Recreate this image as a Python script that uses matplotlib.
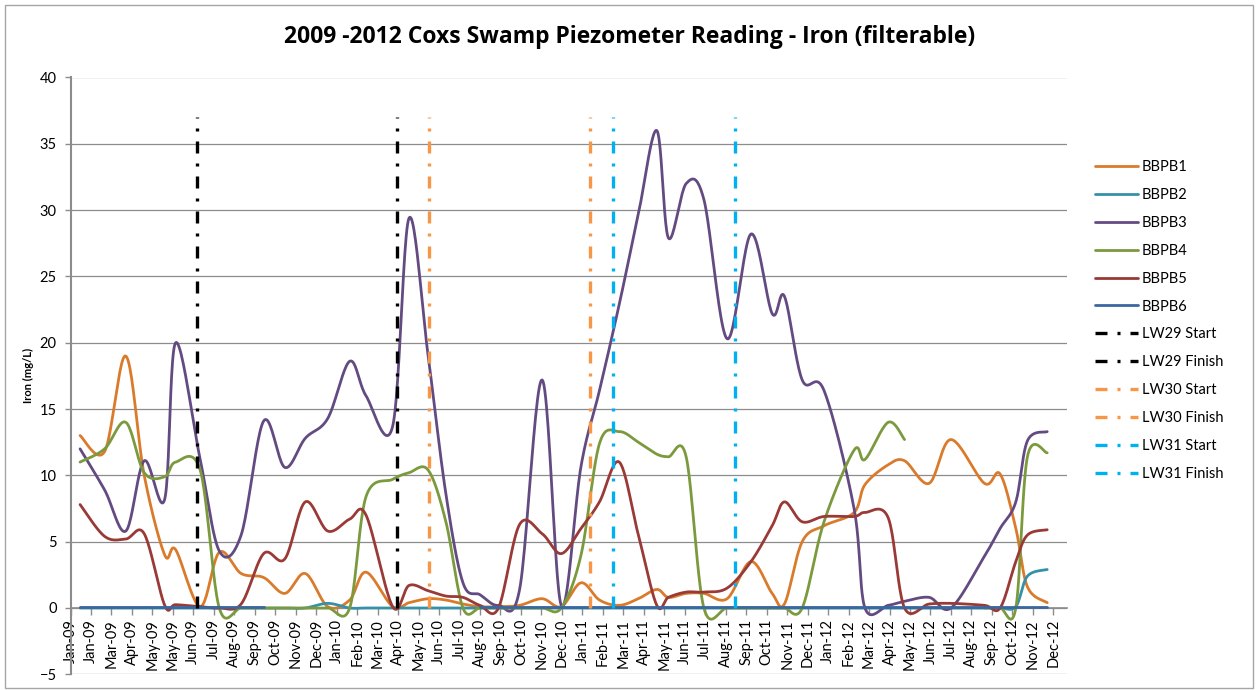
import numpy as np
import pandas
import matplotlib
matplotlib.use("Agg")
import matplotlib.pyplot as plt
import matplotlib.dates as mdates
from matplotlib.patches import Rectangle

plt.rcParams['font.family'] = ['Lato', 'DejaVu Sans']

# sampling dates
sample_dates = [
    "2009-01-15", "2009-02-20", "2009-03-23", "2009-04-19", "2009-05-19", "2009-06-04",
    "2009-07-10", "2009-08-07", "2009-09-08", "2009-10-11", "2009-11-11", "2009-12-11",
    "2010-01-13", "2010-02-14", "2010-03-10", "2010-04-18", "2010-05-12", "2010-06-09",
    "2010-07-05", "2010-07-30", "2010-08-24", "2010-09-20", "2010-10-21", "2010-11-23", "2010-12-21",
    "2011-01-19", "2011-02-15", "2011-03-16", "2011-04-13", "2011-05-10", "2011-05-27",
    "2011-06-22", "2011-07-18", "2011-08-21", "2011-09-25", "2011-10-26", "2011-11-13", "2011-12-09",
    "2012-01-10", "2012-02-23", "2012-03-10", "2012-04-13", "2012-05-07", "2012-06-12",
    "2012-07-14", "2012-09-01", "2012-09-24", "2012-10-17", "2012-11-03", "2012-12-02",
]

nan = np.nan

bbpb1 = [13.0, 11.8, 19.0, 10.0, 4.0, 4.4, 0.1, 4.2, 2.6, 2.3, 1.1, 2.6,
         0.1, 0.6, 2.7, 0.1, 0.4, 0.7, 0.6, 0.3, 0.1, 0.1, 0.2, 0.7, 0.1,
         1.9, 0.6, 0.2, 0.7, 1.4, 0.8, 1.1, 1.1, 0.7, 3.5, 1.1, 0.3, 5.0,
         6.2, 7.2, 9.3, 10.8, 11.1, 9.4, 12.7, 9.4, 10.1, 6.0, 1.6, 0.4]
bbpb2 = [0.0, 0.0, 0.0, 0.0, 0.0, 0.0, 0.0, 0.0, 0.0, 0.0, 0.0, 0.0,
         0.35, 0.0, 0.0, 0.0, 0.0, 0.0, 0.0, 0.0, 0.0, 0.0, 0.0, 0.0, 0.0,
         0.0, 0.0, 0.0, 0.0, 0.0, 0.0, 0.0, 0.0, 0.0, 0.0, 0.0, 0.0, 0.0,
         0.0, 0.0, 0.0, 0.0, 0.0, 0.0, 0.0, 0.0, 0.0, 0.1, 2.4, 2.9]
bbpb3 = [12.0, 8.9, 5.8, 11.1, 8.2, 20.0, 11.2, 4.3, 5.5, 14.1, 10.6, 12.8,
         14.3, 18.6, 16.0, 13.7, 29.4, 19.0, 8.6, 1.9, 1.0, 0.2, 1.4, 17.2, 0.2,
         10.7, 16.4, 22.9, 29.7, 36.0, 27.9, 32.0, 30.8, 20.3, 28.2, 22.2, 23.5, 17.2,
         16.4, 7.5, 0.0, 0.2, 0.5, 0.8, 0.0, 3.9, 6.0, 8.0, 12.6, 13.3]
bbpb4 = [11.0, 12.0, 14.0, 10.2, 9.9, 11.0, 10.4, 0.0, 0.0, 0.0, 0.0, 0.0,
         0.0, 0.0, 8.4, 9.7, 10.2, 10.4, 6.5, 0.0, 0.0, 0.0, 0.0, 0.0, 0.0,
         4.0, 12.4, 13.3, 12.5, 11.6, 11.4, 11.4, 0.0, 0.0, 0.0, 0.0, 0.0, 0.0,
         6.5, 11.9, 11.2, 14.0, 12.7, nan, nan, 0.0, 0.0, 0.0, 11.4, 11.7]
bbpb5 = [7.8, 5.4, 5.2, 5.6, 0.2, 0.25, 0.1, 0.0, 0.3, 4.1, 3.7, 8.0,
         5.8, 6.7, 7.0, 0.1, 1.7, 1.3, 0.9, 0.8, 0.2, 0.0, 6.3, 5.6, 4.1,
         6.0, 8.0, 11.0, 5.5, 0.2, 0.8, 1.2, 1.2, 1.5, 3.5, 6.2, 8.0, 6.5,
         6.9, 6.9, 7.2, 6.8, 0.0, 0.3, 0.35, 0.2, 0.0, 3.5, 5.5, 5.9]
bbpb6 = [0.05, 0.05, 0.05, 0.05, 0.05, 0.05, 0.05, 0.05, 0.05, 0.05, nan, nan,
         nan, nan, nan, nan, nan, nan, nan, nan, 0.05, 0.05, 0.05, 0.05, 0.05,
         0.05, 0.05, 0.05, 0.05, 0.05, 0.05, 0.05, 0.05, 0.05, 0.05, 0.05, 0.05, 0.05,
         0.05, 0.05, 0.05, 0.05, 0.05, 0.05, 0.05, 0.05, 0.05, 0.05, 0.05, 0.05]

series_names = ["BBPB1", "BBPB2", "BBPB3", "BBPB4", "BBPB5", "BBPB6"]
series_values = [bbpb1, bbpb2, bbpb3, bbpb4, bbpb5, bbpb6]
series_colors = ["#DA7B2C", "#3591A8", "#634B82", "#7B9A3E", "#9A3A36", "#3B67A0"]

# longwall start / finish markers
lw_names = ["LW29 Start", "LW29 Finish", "LW30 Start", "LW30 Finish", "LW31 Start", "LW31 Finish"]
lw_dates = ["2009-07-06", "2010-04-25", "2010-06-10", "2011-02-01", "2011-03-07", "2011-09-01"]
lw_colors = ["black", "black", "#F79646", "#F79646", "#00B0F0", "#00B0F0"]
lw_bottom = 0
lw_top = 37

PX_DAY = 0.6825   # pixels per day on screen, used for the smoothing
PX_UNIT = 13.27   # pixels per mg/L


def numpy_arr(v):
    return np.asarray(v, dtype=float)


def excel_smooth(x, y, n=24):
    # bezier smoothing like the excel "smoothed line" option
    x = numpy_arr(x) * PX_DAY
    y = numpy_arr(y) * PX_UNIT
    ok = np.isfinite(y)
    runs = []
    i = 0
    while i < len(y):
        if not ok[i]:
            i += 1
            continue
        j = i
        while j < len(y) and ok[j]:
            j += 1
        runs.append((i, j))
        i = j
    out = []
    t = np.linspace(0, 1, n)[:, None]
    for a, b in runs:
        P = np.column_stack([x[a:b], y[a:b]])
        if len(P) < 2:
            continue
        pts = []
        for k in range(len(P) - 1):
            p0 = P[k - 1] if k > 0 else P[k]
            p1 = P[k]
            p2 = P[k + 1]
            p3 = P[k + 2] if k + 2 < len(P) else P[k + 1]
            c1 = p1 + (p2 - p0) / 6.0
            c2 = p2 - (p3 - p1) / 6.0
            seg = ((1 - t) ** 3) * p1 + 3 * ((1 - t) ** 2) * t * c1 + 3 * (1 - t) * t ** 2 * c2 + t ** 3 * p2
            pts.append(seg if k == 0 else seg[1:])
        pts = np.vstack(pts)
        out.append((pts[:, 0] / PX_DAY, pts[:, 1] / PX_UNIT))
    return out


xnum = mdates.date2num(pandas.to_datetime(sample_dates))

fig = plt.figure(figsize=(12.58, 6.90), dpi=100)
ax = fig.add_axes([70.5 / 1258, 1 - 674.3 / 690, (1067 - 70.5) / 1258, (674.3 - 77.5) / 690])

handles = []
for name, vals, col in zip(series_names, series_values, series_colors):
    first = None
    for xs, ys in excel_smooth(xnum, vals):
        ln, = ax.plot(xs, ys, color=col, lw=2.0, solid_capstyle='round', zorder=3)
        if first is None:
            first = ln
    first.set_label(name)
    handles.append(first)

lw_x = mdates.date2num(pandas.to_datetime(lw_dates))
for name, xv, col in zip(lw_names, lw_x, lw_colors):
    ln, = ax.plot([xv, xv], [lw_bottom, lw_top], color=col, lw=2.4, label=name,
                  dashes=(3.6, 3.0, 0.9, 3.0), dash_capstyle='butt', zorder=4)
    handles.append(ln)

ax.set_xlim(mdates.date2num(pandas.Timestamp("2009-01-01")), mdates.date2num(pandas.Timestamp("2012-12-31")))
ax.set_ylim(-5, 40)
ax.set_yticks(range(-5, 41, 5))

tick_dates = pandas.date_range("2009-01-01", periods=49, freq="30D")
ax.set_xticks(mdates.date2num(tick_dates))
ax.set_xticklabels([d.strftime("%b-%y") for d in tick_dates])

for s in ["top", "right"]:
    ax.spines[s].set_visible(False)
ax.spines["bottom"].set_position(("data", 0))
ax.spines["bottom"].set_color("#8C8C8C")
ax.spines["bottom"].set_linewidth(1.2)
ax.spines["left"].set_color("#8C8C8C")
ax.spines["left"].set_linewidth(1.5)
ax.tick_params(axis="x", length=5, width=1, color="#8C8C8C", pad=3, labelrotation=90, labelsize=10.5)
ax.tick_params(axis="y", length=4, width=1, color="#8C8C8C", labelsize=10.5, pad=6)
ax.yaxis.grid(True, color="#8C8C8C", lw=0.9)
ax.set_axisbelow(True)

fig.text(28 / 1258, 1 - 375 / 690, "Iron (mg/L)", rotation=90, fontsize=8, fontweight="bold",
         ha="center", va="center")
fig.text(630 / 1258, 1 - 37 / 690, "2009 -2012 Coxs Swamp Piezometer Reading - Iron (filterable)",
         fontsize=16.5, fontweight="bold", family=["Open Sans", "DejaVu Sans"], ha="center", va="center")

fig.legend(handles=handles, loc="upper left", bbox_to_anchor=(1088 / 1258, 1 - 153 / 690),
           frameon=False, fontsize=10.5, handlelength=2.9, handletextpad=0.3,
           labelspacing=0.95, borderpad=0)

fig.patches.append(Rectangle((5 / 1258, 2 / 690), 1248 / 1258, 683 / 690, transform=fig.transFigure,
                             fill=False, edgecolor="#A6A6A6", lw=1.0))

fig.savefig("out.png", dpi=100)
